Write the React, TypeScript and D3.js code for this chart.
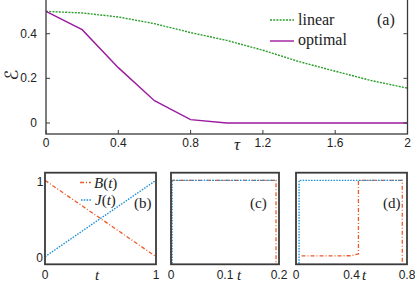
import React from "react";
import * as d3 from "d3";

// ---- panel (a) data ----
const tauLinear = [0, 0.2, 0.4, 0.6, 0.8, 1.0, 1.2, 1.4, 1.6, 1.8, 2.0];
const eLinear = [0.5, 0.493, 0.475, 0.445, 0.405, 0.37, 0.326, 0.275, 0.232, 0.19, 0.156];
const tauOptimal = [0, 0.2, 0.4, 0.6, 0.8, 1.0, 2.0];
const eOptimal = [0.5, 0.418, 0.248, 0.1, 0.015, 0, 0];
const aXTicks = [0, 0.4, 0.8, 1.2, 1.6, 2];
const aYTicks = [0, 0.2, 0.4];

// ---- panel (b) data ----
const bT = [0, 1];
const bB = [1, 0];
const bJ = [0, 1];
// ---- panel (c) data ----
const cTB = [0, 0.1945, 0.1945];
const cB = [1, 1, -0.09];
const cTJ = [0.002, 0.002, 0.1945];
const cJ = [-0.09, 1, 1];
// ---- panel (d) data ----
const dTB = [0.04, 0.39, 0.45, 0.45, 0.766, 0.766];
const dB = [0.01, 0.012, 0.035, 1, 1, -0.09];
const dTJ = [0.022, 0.022, 0.766];
const dJ = [-0.09, 1, 1];

const bXTicks = ["0", "1"];
const cXTicks = [0, 0.1, 0.2];
const dXTicks = [0, 0.4, 0.8];

const GREEN = "#2a9d2a";
const PURPLE = "#9c1aa0";
const ORANGE = "#ec5b2a";
const BLUE = "#1d8fd6";
const FRAME = "#3a3a3a";
const SANS = "'Liberation Sans', Arial, sans-serif";
const SERIF = "'Liberation Serif', 'Times New Roman', serif";

type P = [number, number];
const zip = (a: number[], b: number[]): P[] => a.map((v, i) => [v, b[i]] as P);

export default function App() {
  // panel (a)
  const ax = d3.scaleLinear().domain([0, 2]).range([46, 407.5]);
  const ay = d3.scaleLinear().domain([-0.0494, 0.56]).range([134, -2]);
  const aLine = d3.line<P>().x((d) => ax(d[0])).y((d) => ay(d[1]));

  // bottom panels
  const by = d3.scaleLinear().domain([-0.1, 1.1]).range([264.3, 172.7]);
  const bx = d3.scaleLinear().domain([0, 1]).range([45, 156]);
  const cx = d3.scaleLinear().domain([0, 0.2]).range([171, 279]);
  const dx = d3.scaleLinear().domain([0, 0.8]).range([296, 407]);
  const mk = (sx: d3.ScaleLinear<number, number>) =>
    d3.line<P>().x((d) => sx(d[0])).y((d) => by(d[1]));

  const bDash = "4,2,1,2";
  const jDash = "1.5,1.3";

  const frame = (sx: d3.ScaleLinear<number, number>) => {
    const [x0, x1] = sx.range();
    const [y0, y1] = by.range();
    return (
      <rect x={x0} y={y1} width={x1 - x0} height={y0 - y1} fill="none" stroke={FRAME} strokeWidth={1.8} />
    );
  };

  return (
    <svg width={415} height={282} style={{ position: "absolute", left: 0, top: 0, background: "#fff" }}>
      {/* ===== panel (a) ===== */}
      <path d={aLine(zip(tauLinear, eLinear)) || ""} fill="none" stroke={GREEN} strokeWidth={1.4} strokeDasharray="2,1.2" />
      <path d={aLine(zip(tauOptimal, eOptimal)) || ""} fill="none" stroke={PURPLE} strokeWidth={1.4} />
      <rect x={ax(0)} y={ay.range()[1]} width={ax(2) - ax(0)} height={ay.range()[0] - ay.range()[1]} fill="none" stroke={FRAME} strokeWidth={1.3} />
      {aYTicks.map((v) => (
        <g key={"ay" + v}>
          <line x1={ax(0)} x2={ax(0) + 4} y1={ay(v)} y2={ay(v)} stroke={FRAME} strokeWidth={1} />
          <line x1={ax(2)} x2={ax(2) - 4} y1={ay(v)} y2={ay(v)} stroke={FRAME} strokeWidth={1} />
          <text x={37} y={ay(v) + 4} textAnchor="end" fontFamily={SANS} fontSize={12} fill="#222">
            {v === 0 ? "0" : v.toFixed(1)}
          </text>
        </g>
      ))}
      {aXTicks.map((v) => (
        <g key={"ax" + v}>
          <line x1={ax(v)} x2={ax(v)} y1={134} y2={130} stroke={FRAME} strokeWidth={1} />
          <text x={ax(v)} y={146.5} textAnchor="middle" fontFamily={SANS} fontSize={12} fill="#222">
            {v === 0 || v === 2 ? String(v) : v.toFixed(1)}
          </text>
        </g>
      ))}
      <text x={237} y={150} textAnchor="middle" fontFamily={SERIF} fontStyle="italic" fontSize={17} fill="#222">τ</text>
      <text transform="translate(18,75) rotate(-90)" textAnchor="middle" fontFamily="'DejaVu Serif', 'DejaVu Sans', serif" fontSize={18} fill="#222">ℰ</text>
      {/* legend */}
      <line x1={270} x2={294} y1={20} y2={20} stroke={GREEN} strokeWidth={1.4} strokeDasharray="2,1.2" />
      <text x={298} y={25} fontFamily={SERIF} fontSize={16} fill="#222">linear</text>
      <line x1={270} x2={294} y1={41} y2={41} stroke={PURPLE} strokeWidth={1.4} />
      <text x={298} y={45} fontFamily={SERIF} fontSize={16} fill="#222">optimal</text>
      <text x={377} y={25} fontFamily={SERIF} fontSize={16} fill="#222">(a)</text>

      {/* ===== panel (b) ===== */}
      <path d={mk(bx)(zip(bT, bB)) || ""} fill="none" stroke={ORANGE} strokeWidth={1.3} strokeDasharray={bDash} />
      <path d={mk(bx)(zip(bT, bJ)) || ""} fill="none" stroke={BLUE} strokeWidth={1.4} strokeDasharray={jDash} />
      {frame(bx)}
      <line x1={80} x2={91} y1={182.5} y2={182.5} stroke={ORANGE} strokeWidth={1.3} strokeDasharray={bDash} />
      <text x={94} y={187.5} fontFamily={SERIF} fontSize={15} fill="#222">
        <tspan fontStyle="italic">B</tspan>(<tspan fontStyle="italic">t</tspan>)
      </text>
      <line x1={81} x2={92} y1={200} y2={200} stroke={BLUE} strokeWidth={1.4} strokeDasharray={jDash} />
      <text x={95} y={205} fontFamily={SERIF} fontSize={15} fill="#222">
        <tspan fontStyle="italic">J</tspan>(<tspan fontStyle="italic">t</tspan>)
      </text>
      <text x={134} y={208} fontFamily={SERIF} fontSize={15} fill="#222">(b)</text>
      <text x={40} y={186} textAnchor="middle" fontFamily={SANS} fontSize={12} fill="#222">1</text>
      <text x={39.5} y={261.5} textAnchor="middle" fontFamily={SANS} fontSize={12} fill="#222">0</text>
      {bXTicks.map((v) => (
        <text key={"bx" + v} x={bx(+v)} y={278.5} textAnchor="middle" fontFamily={SANS} fontSize={12} fill="#222">{v}</text>
      ))}
      <text x={97} y={280} textAnchor="middle" fontFamily={SERIF} fontStyle="italic" fontSize={15} fill="#222">t</text>

      {/* ===== panel (c) ===== */}
      <path d={mk(cx)(zip(cTB, cB)) || ""} fill="none" stroke={ORANGE} strokeWidth={1.3} strokeDasharray={bDash} />
      <path d={mk(cx)(zip(cTJ, cJ)) || ""} fill="none" stroke={BLUE} strokeWidth={1.4} strokeDasharray={jDash} />
      {frame(cx)}
      <text x={250} y={208} fontFamily={SERIF} fontSize={15} fill="#222">(c)</text>
      {cXTicks.map((v) => (
        <text key={"cx" + v} x={cx(v)} y={278.5} textAnchor="middle" fontFamily={SANS} fontSize={12} fill="#222">
          {v === 0 ? "0" : v.toFixed(1)}
        </text>
      ))}
      <text x={239} y={280} textAnchor="middle" fontFamily={SERIF} fontStyle="italic" fontSize={15} fill="#222">t</text>

      {/* ===== panel (d) ===== */}
      <path d={mk(dx)(zip(dTB, dB)) || ""} fill="none" stroke={ORANGE} strokeWidth={1.3} strokeDasharray={bDash} />
      <path d={mk(dx)(zip(dTJ, dJ)) || ""} fill="none" stroke={BLUE} strokeWidth={1.4} strokeDasharray={jDash} />
      {frame(dx)}
      <text x={383} y={208} fontFamily={SERIF} fontSize={15} fill="#222">(d)</text>
      {dXTicks.map((v) => (
        <text key={"dx" + v} x={dx(v)} y={278.5} textAnchor="middle" fontFamily={SANS} fontSize={12} fill="#222">
          {v === 0 ? "0" : v.toFixed(1)}
        </text>
      ))}
      <text x={364} y={280} textAnchor="middle" fontFamily={SERIF} fontStyle="italic" fontSize={15} fill="#222">t</text>
    </svg>
  );
}
